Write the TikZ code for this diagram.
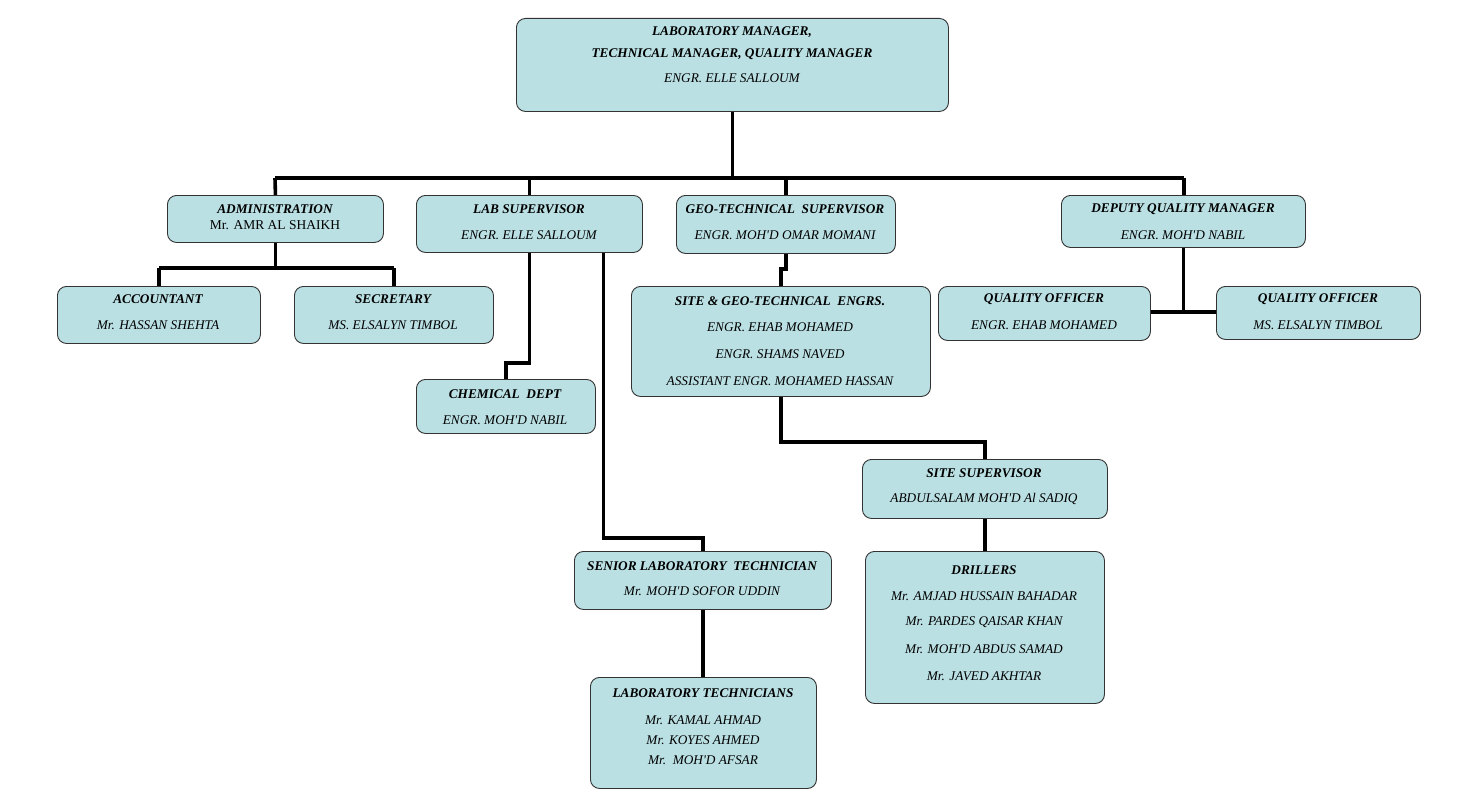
\documentclass[tikz,border=0pt]{standalone}
\usepackage{fontspec}
\setmainfont{Liberation Serif}
\usetikzlibrary{calc}
\definecolor{boxfill}{HTML}{BAE0E4}
\definecolor{boxline}{HTML}{333333}
\tikzset{
  box/.style={draw=boxline, fill=boxfill, line width=0.9pt, rounded corners=9pt, anchor=north west, inner sep=0pt},
  conn/.style={line width=3.6pt, black},
  ttl/.style={font=\fontsize{13.3}{15}\selectfont\bfseries\itshape, inner sep=0pt, yshift=-1.5pt},
  nm/.style={font=\fontsize{13.3}{15}\selectfont\itshape, inner sep=0pt, yshift=-1.5pt},
  up/.style={font=\fontsize{13.5}{15}\selectfont, inner sep=0pt, yshift=-1.5pt}
}
\newcommand{\bx}[5]{\node[box, minimum width=#4-#2, minimum height=#5-#3] (#1) at (#2,#3) {};}
\newcommand{\ap}{\textquotesingle}
\begin{document}
\begin{tikzpicture}[x=1pt,y=-1pt]
\useasboundingbox (0,0) rectangle (1480,800);
\coordinate (busL) at (275,178);
\coordinate (busR) at (1184,178);
\coordinate (admBus) at (0,268);
\coordinate (depBus) at (0,312);
% boxes
\bx{top}{516}{18}{948}{111}
\bx{admin}{167}{195}{383}{242}
\bx{labsup}{416}{195}{642}{252}
\bx{geo}{676}{195}{895}{253}
\bx{dep}{1061}{195}{1305}{247}
\bx{acc}{57}{286}{260}{343}
\bx{sec}{294}{286}{493}{343}
\bx{site}{631}{286}{930}{396}
\bx{qoa}{938}{286}{1150}{340}
\bx{qob}{1216}{286}{1420}{339}
\bx{chem}{416}{379}{595}{433}
\bx{sitesup}{862}{459}{1107}{518}
\bx{senior}{574}{551}{831}{609}
\bx{labtech}{590}{677}{816}{788}
\bx{drill}{865}{551}{1104}{703}
\coordinate (ls2) at ($(labsup.south)+(74,0)$);
% connectors
\draw[conn] (top.south) -- (top.south |- busL);
\draw[conn] (busL) -- (busR);
\draw[conn] (busL) -- (admin.north);
\draw[conn] (labsup.north |- busL) -- (labsup.north);
\draw[conn] (geo.north |- busL) -- (geo.north);
\draw[conn] (busR) -- (busR |- dep.north);
\draw[conn] (admin.south) -- (admin.south |- admBus);
\draw[conn] (acc.north |- admBus) -- (sec.north |- admBus);
\draw[conn] (acc.north |- admBus) -- (acc.north);
\draw[conn] (sec.north |- admBus) -- (sec.north);
\draw[conn] (labsup.south) -- ++(0,110) -| (chem.north);
\draw[conn] (ls2) -- ++(0,285) -| (senior.north);
\draw[conn] (senior.south) -- (senior.south |- labtech.north);
\draw[conn] (geo.south) -- ++(0,15) -| (site.north);
\draw[conn] (site.south) -- ++(0,45) -| (sitesup.north);
\draw[conn] (sitesup.south) -- (sitesup.south |- drill.north);
\draw[conn] (dep.south) -- (dep.south |- depBus);
\draw[conn] (qoa.east |- depBus) -- (qob.west |- depBus);
% texts
\node[ttl] (t1) at (732,31) {LABORATORY MANAGER,};
\node[ttl] (t2) at (732,53) {TECHNICAL MANAGER, QUALITY MANAGER};
\node[nm] (t3) at (732,77) {ENGR. ELLE SALLOUM};
\node[ttl] (t4) at (275,208) {ADMINISTRATION};
\node[up] (t5) at (275,224) {Mr. AMR AL SHAIKH};
\node[ttl] (t6) at (529,208) {LAB SUPERVISOR};
\node[nm] (t7) at (529,234) {ENGR. ELLE SALLOUM};
\node[ttl] (t8) at (785,208) {GEO-TECHNICAL\ \ SUPERVISOR};
\node[nm] (t9) at (785,234) {ENGR. MOH\ap D OMAR MOMANI};
\node[ttl] (t10) at (1183,208) {DEPUTY QUALITY MANAGER};
\node[nm] (t11) at (1183,234) {ENGR. MOH\ap D NABIL};
\node[ttl] (t12) at (158,298) {ACCOUNTANT};
\node[nm] (t13) at (158,324) {Mr. HASSAN SHEHTA};
\node[ttl] (t14) at (393,298) {SECRETARY};
\node[nm] (t15) at (393,324) {MS. ELSALYN TIMBOL};
\node[ttl] (t16) at (780,300) {SITE \& GEO-TECHNICAL\ \ ENGRS.};
\node[nm] (t17) at (780,326) {ENGR. EHAB MOHAMED};
\node[nm] (t18) at (780,353) {ENGR. SHAMS NAVED};
\node[nm] (t19) at (780,380) {ASSISTANT ENGR. MOHAMED HASSAN};
\node[ttl] (t20) at (1044,298) {QUALITY OFFICER};
\node[nm] (t21) at (1044,324) {ENGR. EHAB MOHAMED};
\node[ttl] (t22) at (1318,298) {QUALITY OFFICER};
\node[nm] (t23) at (1318,324) {MS. ELSALYN TIMBOL};
\node[ttl] (t24) at (505,393) {CHEMICAL\ \ DEPT};
\node[nm] (t25) at (505,419) {ENGR. MOH\ap D NABIL};
\node[ttl] (t26) at (984,472) {SITE SUPERVISOR};
\node[nm] (t27) at (984,497) {ABDULSALAM MOH\ap D Al SADIQ};
\node[ttl] (t28) at (702,565) {SENIOR LABORATORY\ \ TECHNICIAN};
\node[nm] (t29) at (702,590) {Mr. MOH\ap D SOFOR UDDIN};
\node[ttl] (t30) at (703,692) {LABORATORY TECHNICIANS};
\node[nm] (t31) at (703,719) {Mr. KAMAL AHMAD};
\node[nm] (t32) at (703,739) {Mr. KOYES AHMED};
\node[nm] (t33) at (703,759) {Mr.\ \ MOH\ap D AFSAR};
\node[ttl] (t34) at (984,569) {DRILLERS};
\node[nm] (t35) at (984,595) {Mr. AMJAD HUSSAIN BAHADAR};
\node[nm] (t36) at (984,621) {Mr. PARDES QAISAR KHAN};
\node[nm] (t37) at (984,648) {Mr. MOH\ap D ABDUS SAMAD};
\node[nm] (t38) at (984,675) {Mr. JAVED AKHTAR};
\end{tikzpicture}
\end{document}
